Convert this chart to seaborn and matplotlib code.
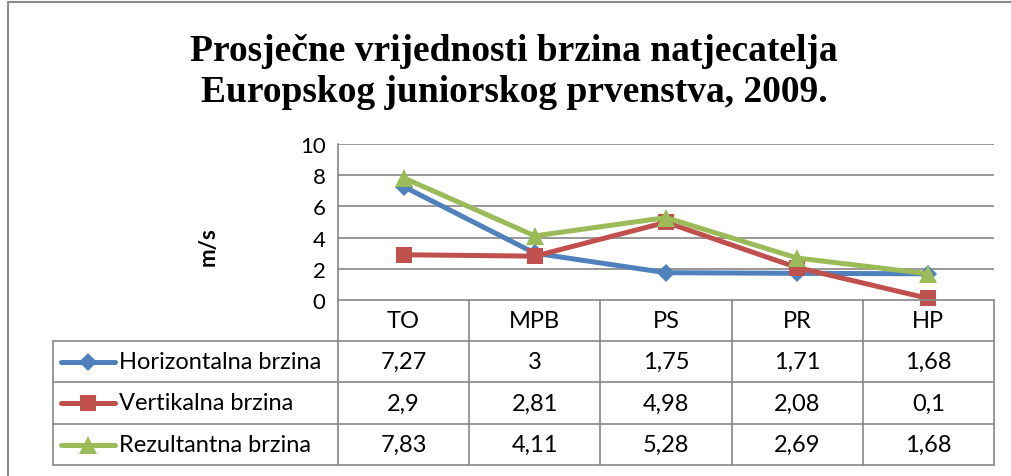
import matplotlib
matplotlib.use("Agg")
import matplotlib.pyplot as plt
from matplotlib.lines import Line2D
from matplotlib.transforms import blended_transform_factory
import seaborn as sns
import pandas as pd

categories = ["TO", "MPB", "PS", "PR", "HP"]
series_names = ["Horizontalna brzina", "Vertikalna brzina", "Rezultantna brzina"]
horizontalna = [7.27, 3, 1.75, 1.71, 1.68]
vertikalna = [2.9, 2.81, 4.98, 2.08, 0.1]
rezultantna = [7.83, 4.11, 5.28, 2.69, 1.68]
y_ticks = [0, 2, 4, 6, 8, 10]
title = "Prosječne vrijednosti brzina natjecatelja\nEuropskog juniorskog prvenstva, 2009."
y_label = "m/s"

colors = ["#4F81BD", "#C0504D", "#9BBB59"]
markers = ["D", "s", "^"]
msizes = [9, 11, 12.5]

values = [horizontalna, vertikalna, rezultantna]
rows = []
for name, vals in zip(series_names, values):
    for c, v in zip(categories, vals):
        rows.append({"kat": c, "v": v, "serija": name})
df = pd.DataFrame(rows)

sns.set_style("white")
plt.rcParams["font.family"] = ["Lato", "DejaVu Sans"]
plt.rcParams["text.color"] = "black"
plt.rcParams["ytick.color"] = "black"

FS = 17

W, H = 1011, 477
fig = plt.figure(figsize=(W / 100, H / 100), dpi=100)
ax_l, ax_r, ax_t, ax_b = 338, 994, 145, 301
ax = fig.add_axes([ax_l / W, 1 - ax_b / H, (ax_r - ax_l) / W, (ax_b - ax_t) / H])

sns.lineplot(data=df, x="kat", y="v", hue="serija", style="serija",
             palette=dict(zip(series_names, colors)),
             markers=dict(zip(series_names, markers)), dashes=False,
             sort=False, lw=3.6, ax=ax, legend=False, markeredgewidth=0)
for line, ms in zip(ax.get_lines(), msizes):
    line.set_markersize(ms)
    line.set_clip_on(False)

ax.set_xlim(-0.5, len(categories) - 0.5)
ax.set_ylim(0, 10)
ax.set_yticks(y_ticks)
ax.set_yticklabels([str(t) for t in y_ticks], fontsize=16)
ax.set_xticks([])
ax.set_xlabel("")
ax.set_ylabel("")
ax.tick_params(axis="y", length=0, pad=9)
for s in ["top", "right", "bottom"]:
    ax.spines[s].set_visible(False)
ax.spines["left"].set_color("#868686")
ax.spines["left"].set_linewidth(1.2)
for t in y_ticks[1:]:
    ax.axhline(t, color="#868686", lw=1.2, zorder=0)

fig.text(208 / W, 1 - 247 / H, y_label, rotation=90, fontsize=16, fontweight="bold",
         ha="center", va="center")

fig.text(514 / W, 1 - 72 / H, title, ha="center", va="center", fontsize=27,
         fontweight="bold", family="Liberation Serif", linespacing=1.2)

# Table
axh = ax_b - ax_t
def ay(py):
    return (ax_b - py) / axh
def axx(px):
    return (px - ax_l) / (ax_r - ax_l)

grid_c = "#878787"
row_edges = [301, 342, 383, 425, 466]
label_left = 53
tr = ax.transAxes
blend = blended_transform_factory(ax.transData, ax.transAxes)
ax.add_line(Line2D([0, 1], [ay(301)] * 2, transform=tr, color=grid_c, lw=1.2, clip_on=False))
for py in row_edges[1:]:
    ax.add_line(Line2D([axx(label_left), 1], [ay(py)] * 2, transform=tr, color=grid_c,
                       lw=1.2, clip_on=False))
ax.add_line(Line2D([0, 0], [ay(301), ay(466)], transform=tr, color=grid_c, lw=1.2, clip_on=False))
ax.add_line(Line2D([axx(label_left)] * 2, [ay(342), ay(466)], transform=tr, color=grid_c,
                   lw=1.2, clip_on=False))
for i in range(1, len(categories) + 1):
    ax.add_line(Line2D([i - 0.5] * 2, [ay(301), ay(466)], transform=blend, color=grid_c,
                       lw=1.2, clip_on=False))

def fmt(v):
    return f"{v:g}".replace(".", ",")

hy = (row_edges[0] + row_edges[1]) / 2
for i, c in enumerate(categories):
    ax.text(i, ay(hy), c, transform=blend, ha="center", va="center", fontsize=FS)
for r, (name, vals) in enumerate(zip(series_names, values)):
    cy = (row_edges[r + 1] + row_edges[r + 2]) / 2
    for i, v in enumerate(vals):
        ax.text(i, ay(cy), fmt(v), transform=blend, ha="center", va="center", fontsize=FS)
    ax.add_line(Line2D([axx(61), axx(115)], [ay(cy)] * 2, transform=tr, color=colors[r],
                       lw=3.6, solid_capstyle="round", clip_on=False))
    ax.add_line(Line2D([axx(88)], [ay(cy)], transform=tr, color=colors[r], marker=markers[r],
                       markersize=msizes[r], markeredgewidth=0, clip_on=False))
    ax.text(axx(119), ay(cy), name, transform=tr, ha="left", va="center", fontsize=FS)

fig.add_artist(Line2D([8 / W, 1], [1 - 3 / H] * 2, transform=fig.transFigure, color="#8c8c8c", lw=1.5))
fig.add_artist(Line2D([8 / W] * 2, [0, 1 - 3 / H], transform=fig.transFigure, color="#8c8c8c", lw=1.5))

fig.savefig("out.png", dpi=100)
